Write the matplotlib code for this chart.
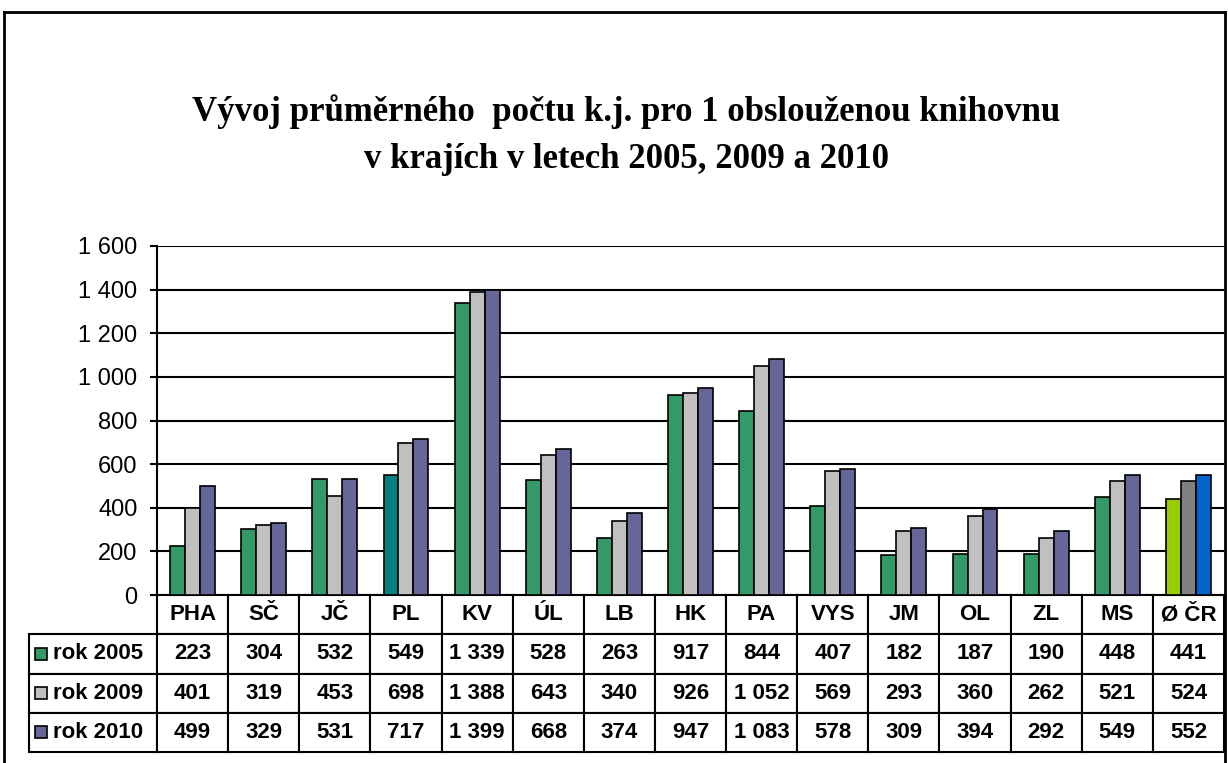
import numpy as np
import matplotlib.pyplot as plt
from matplotlib.table import Table
from matplotlib.patches import Rectangle
from matplotlib.lines import Line2D

plt.rcParams['font.family'] = ['Liberation Sans', 'DejaVu Sans']

# Data
kraje = ['PHA', 'SČ', 'JČ', 'PL', 'KV', 'ÚL', 'LB', 'HK', 'PA', 'VYS',
         'JM', 'OL', 'ZL', 'MS', 'Ø ČR']
rok_2005 = [223, 304, 532, 549, 1339, 528, 263, 917, 844, 407, 182, 187, 190, 448, 441]
rok_2009 = [401, 319, 453, 698, 1388, 643, 340, 926, 1052, 569, 293, 360, 262, 521, 524]
rok_2010 = [499, 329, 531, 717, 1399, 668, 374, 947, 1083, 578, 309, 394, 292, 549, 552]
serie = ['rok 2005', 'rok 2009', 'rok 2010']
yticks = [0, 200, 400, 600, 800, 1000, 1200, 1400, 1600]

# Colours (Excel palette)
barvy = ['#339966', '#C0C0C0', '#666699']
barvy_pl_2005 = '#008080'
barvy_cr = ['#99CC00', '#808080', '#0066CC']


def fmt(v):
    return f"{v:,}".replace(",", " ")


W, H = 1228, 763
fig = plt.figure(figsize=(W / 100, H / 100), dpi=100)

# plot area in pixels
px_l, px_r, px_t, px_b = 157, 1224, 246, 595
aw, ah = px_r - px_l, px_b - px_t
ax = fig.add_axes([px_l / W, 1 - px_b / H, aw / W, ah / H])

x = np.arange(len(kraje))
bw = 0.21
for k, vals in enumerate([rok_2005, rok_2009, rok_2010]):
    cols = [barvy[k]] * len(kraje)
    if k == 0:
        cols[kraje.index('PL')] = barvy_pl_2005
    cols[-1] = barvy_cr[k]
    ax.bar(x + (k - 1) * bw, vals, width=bw, color=cols, edgecolor='black',
           linewidth=1.2, zorder=3)

ax.set_xlim(-0.5, len(kraje) - 0.5)
ax.set_ylim(0, 1600)
ax.set_yticks(yticks)
ax.set_yticklabels([fmt(v) for v in yticks], fontsize=17)
ax.tick_params(axis='y', length=5, width=1.5, pad=9)
ax.set_xticks([])
ax.grid(axis='y', color='black', linewidth=1.5, zorder=0)
for s in ['top', 'right', 'bottom']:
    ax.spines[s].set_visible(False)
ax.spines['left'].set_linewidth(1.5)

# data table below the plot (sizes in axes units)
lab_w = 128 / aw
col_w = 1 / len(kraje)
tab_h = (752 - px_b) / ah
row_h = tab_h / 4
tab = Table(ax, bbox=[0, -tab_h, 1, tab_h])
for j, c in enumerate(kraje):
    tab.add_cell(0, j, width=col_w, height=row_h, text=c, loc='center')
for i, (nazev, vals) in enumerate(zip(serie, [rok_2005, rok_2009, rok_2010])):
    cell = tab.add_cell(i + 1, -1, width=lab_w, height=row_h, text=nazev, loc='left')
    cell.PAD = 0.19
    for j, v in enumerate(vals):
        tab.add_cell(i + 1, j, width=col_w, height=row_h, text=fmt(v), loc='center')
tab.auto_set_font_size(False)
tab.set_fontsize(16)
for cell in tab.get_celld().values():
    cell.set_linewidth(1.5)
    cell.set_edgecolor('black')
    cell.get_text().set_fontweight('bold')
ax.add_table(tab)

# legend keys in the row labels
for i in range(3):
    yc = -tab_h + row_h * (2.5 - i)
    ax.add_patch(Rectangle((-122 / aw, yc - 6 / ah), 12 / aw, 12 / ah,
                           transform=ax.transAxes, clip_on=False,
                           facecolor=barvy[i], edgecolor='black', linewidth=1.2))

# title
fig.text(0.51, 1 - 135 / H,
         'Vývoj průměrného  počtu k.j. pro 1 obslouženou knihovnu\nv krajích v letech 2005, 2009 a 2010',
         ha='center', va='center', fontsize=25, fontweight='bold',
         family='Liberation Serif', linespacing=1.55)

# chart border
for xs, ys in [([4 / W, 4 / W], [0, 1 - 12 / H]),
               ([4 / W, 1225 / W], [1 - 12 / H, 1 - 12 / H]),
               ([1225 / W, 1225 / W], [0, 1 - 12 / H])]:
    fig.add_artist(Line2D(xs, ys, color='black', linewidth=2))

plt.savefig('out.png', dpi=100)
